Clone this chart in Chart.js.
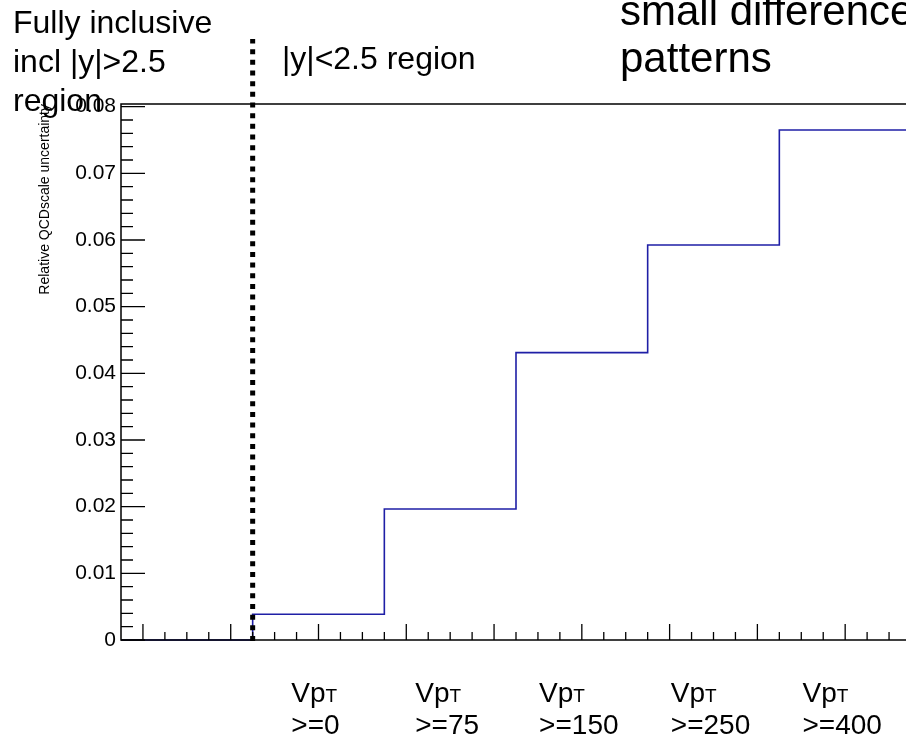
<!DOCTYPE html>
<html>
<head>
  <meta charset="UTF-8">
  <title>Relative QCDscale uncertainty</title>
  <style type="text/css">
    html, body { margin: 0; padding: 0; overflow: hidden; background: #fff; }
    #chart-container { width: 940px; height: 744px; }
  </style>
  <script type="text/javascript" src="https://cdn.jsdelivr.net/npm/chart.js@4.4.0/dist/chart.umd.min.js"></script>
</head>
<body>
<div id="chart-container"><canvas id="mycanvas" width="940" height="744"></canvas></div>
<script>
// histogram bins (x axis units) and contents
var binEdges = [0.75, 2.25, 3.75, 5.25, 6.75, 8.25, 9.75];
var binValues = [0, 0.00386, 0.01965, 0.0431, 0.05925, 0.0765];
var binCuts = ['', '>=0', '>=75', '>=150', '>=250', '>=400'];
var yTickValues = [0, 0.01, 0.02, 0.03, 0.04, 0.05, 0.06, 0.07, 0.08];
var yTickLabels = ['0', '0.01', '0.02', '0.03', '0.04', '0.05', '0.06', '0.07', '0.08'];
var yMax = 0.0804;
var regionSplit = 2.25;   // edge between inclusive bin and |y|<2.5 bins

var FONT = '"Liberation Sans", Arial, Helvetica, sans-serif';

var points = [];
for (var i = 0; i < binEdges.length; i++) {
  points.push({ x: binEdges[i], y: binValues[Math.min(i, binValues.length - 1)] });
}

// ROOT look: frame, inward ticks, dotted divider, text
var rootStyle = {
  id: 'rootStyle',
  afterDraw: function(chart) {
    var ctx = chart.ctx, a = chart.chartArea;
    var xs = chart.scales.x, ys = chart.scales.y;
    ctx.save();
    ctx.strokeStyle = '#000';
    ctx.lineWidth = 1.5;
    ctx.strokeRect(a.left, a.top, a.right - a.left, a.bottom - a.top);

    ctx.lineWidth = 1.3;
    ctx.beginPath();
    var v, px, py;
    for (v = 1; v <= xs.max; v += 0.25) {
      px = xs.getPixelForValue(v);
      var len = (Math.abs(v - Math.round(v)) < 1e-6) ? 16 : 8;
      ctx.moveTo(px, a.bottom);
      ctx.lineTo(px, a.bottom - len);
    }
    for (v = 0; v <= ys.max + 1e-9; v += 0.002) {
      py = ys.getPixelForValue(v);
      var major = Math.abs(v / 0.01 - Math.round(v / 0.01)) < 1e-6;
      ctx.moveTo(a.left, py);
      ctx.lineTo(a.left + (major ? 24 : 12), py);
    }
    ctx.stroke();

    // dotted divider
    px = xs.getPixelForValue(regionSplit);
    ctx.lineWidth = 5;
    ctx.setLineDash([5, 5.67]);
    ctx.beginPath();
    ctx.moveTo(px, a.bottom + 1);
    ctx.lineTo(px, 39);
    ctx.stroke();
    ctx.setLineDash([]);

    ctx.fillStyle = '#000';
    ctx.textBaseline = 'alphabetic';
    ctx.textAlign = 'left';
    ctx.font = '32px ' + FONT;
    ctx.fillText('Fully inclusive', 13, 33);
    ctx.fillText('incl |y|>2.5', 13, 72);
    ctx.fillText('region', 13, 111);
    ctx.fillText('|y|<2.5 region', 282, 69);

    ctx.font = '42px ' + FONT;
    ctx.fillText('small difference', 620, 25);
    ctx.fillText('patterns', 620, 72);

    // bin labels under the axis
    for (i = 1; i < binCuts.length; i++) {
      var cx = xs.getPixelForValue((binEdges[i] + binEdges[i + 1]) / 2);
      ctx.font = '28px ' + FONT;
      var wVp = ctx.measureText('Vp').width;
      var wCut = ctx.measureText(binCuts[i]).width;
      ctx.font = '19px ' + FONT;
      var wT = ctx.measureText('T').width;
      var lx = cx - Math.max(wVp + wT, wCut) / 2 - 3;
      ctx.font = '28px ' + FONT;
      ctx.fillText('Vp', lx, 702);
      ctx.fillText(binCuts[i], lx, 734);
      ctx.font = '19px ' + FONT;
      ctx.fillText('T', lx + wVp, 702);
    }
    ctx.restore();
  }
};

var ctx = document.getElementById('mycanvas');
var chart = new Chart(ctx, {
  type: 'line',
  data: {
    datasets: [{
      data: points,
      borderColor: '#1f1fa6',
      borderWidth: 1.6,
      stepped: true,
      pointRadius: 0,
      fill: false,
      clip: false
    }]
  },
  options: {
    responsive: false,
    animation: false,
    events: [],
    layout: { padding: { top: 104, right: 29, bottom: 0, left: 0 } },
    plugins: { legend: { display: false }, tooltip: { enabled: false } },
    scales: {
      x: {
        type: 'linear',
        min: binEdges[0],
        max: binEdges[binEdges.length - 1],
        grid: { display: false, drawTicks: false },
        border: { display: false },
        ticks: { display: false },
        afterFit: function(s) { s.height = 104; }
      },
      y: {
        type: 'linear',
        min: 0,
        max: yMax,
        grid: { display: false, drawTicks: false },
        border: { display: false },
        afterBuildTicks: function(s) {
          s.ticks = yTickValues.map(function(v) { return { value: v }; });
        },
        ticks: {
          color: '#000',
          padding: 5,
          font: { family: FONT, size: 21 },
          callback: function(v, idx) { return yTickLabels[idx]; }
        },
        title: {
          display: true,
          text: 'Relative QCDscale uncertainty',
          align: 'end',
          color: '#000',
          font: { family: FONT, size: 14 },
          padding: { top: 37, bottom: 0 }
        },
        afterFit: function(s) { s.width = 121; }
      }
    }
  },
  plugins: [rootStyle]
});
</script>
</body>
</html>
